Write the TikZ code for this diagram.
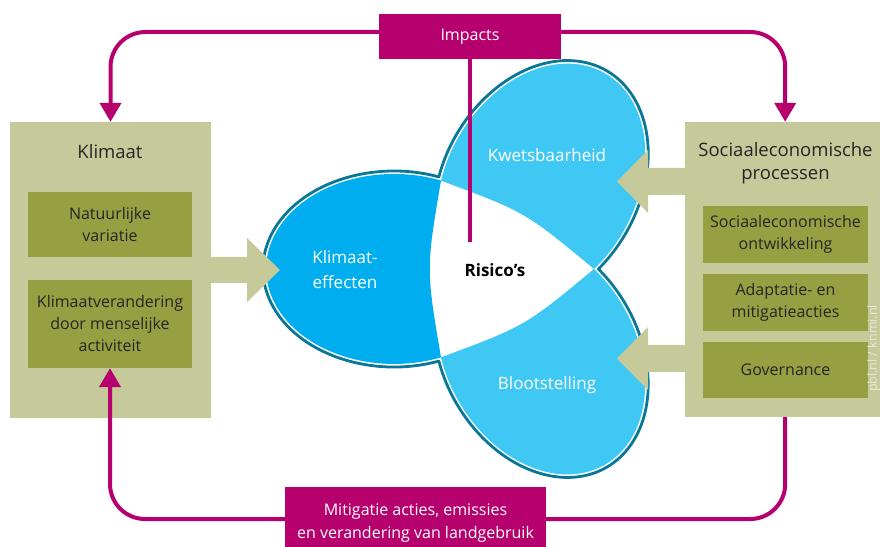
\documentclass[tikz,border=0pt]{standalone}
\usepackage{fontspec}
\setmainfont{Open Sans}
\usetikzlibrary{arrows.meta,calc}
\definecolor{mag}{RGB}{182,0,110}
\definecolor{olivelight}{RGB}{198,202,154}
\definecolor{olivedark}{RGB}{150,159,66}
\definecolor{petaldark}{RGB}{0,174,239}
\definecolor{petallight}{RGB}{64,200,244}
\definecolor{tealline}{RGB}{10,118,152}
\definecolor{marktext}{RGB}{232,234,214}
\begin{document}
\begin{tikzpicture}[x=1pt,y=1pt,
 panel/.style={fill=olivelight, draw=none, inner sep=0pt},
 innerbox/.style={fill=olivedark, draw=none, minimum width=164pt, align=center, text=black!85, font=\fontsize{16}{22}\selectfont, inner sep=0pt},
 titletext/.style={align=center, text=black!85, font=\fontsize{18.5}{23}\selectfont},
 magbox/.style={fill=mag, text=white, align=center, inner sep=0pt, font=\fontsize{16}{23}\selectfont},
 magline/.style={draw=mag, line width=4pt, rounded corners=35pt},
 magtip/.style={-{Triangle[length=19pt,width=21pt]}},
 fatarrow/.style={fill=olivelight},
 petallabel/.style={text=white, align=center, font=\fontsize{17}{25}\selectfont},
]
\useasboundingbox (0,0) rectangle (880,546);

% panels
\node[panel, minimum width=201pt, minimum height=296pt] (klimaat) at (110.5,276) {};
\node[titletext] (klimaatT) at (110,394) {Klimaat};
\node[innerbox, minimum height=65pt] (natvar) at (110,321.5) {Natuurlijke\\variatie};
\node[innerbox, minimum height=88pt] (klimver) at (110,222) {Klimaatverandering\\door menselijke\\activiteit};

\node[panel, minimum width=200pt, minimum height=295pt, anchor=west] (socio) at (685,276.5) {};
\node[titletext] (socioT) at (785.5,382.5) {Sociaaleconomische\\processen};
\node[innerbox, minimum width=165pt, minimum height=57pt] (socio1) at (785.5,311.5) {Sociaaleconomische\\ontwikkeling};
\node[innerbox, minimum width=165pt, minimum height=57pt] (socio2) at (785.5,243.5) {Adaptatie- en\\mitigatieacties};
\node[innerbox, minimum width=165pt, minimum height=56pt] (socio3) at (785.5,176) {Governance};
\node[rotate=90, text=marktext, font=\fontsize{12.5}{13}\selectfont] (mark) at (873.5,197.5) {pbl.nl / knmi.nl};

% petals
\foreach \ang/\col in {180/petaldark, 60/petallight, -60/petallight} {
 \begin{scope}[shift={(492,277)}, rotate=\ang]
  \fill[\col] (51,88.33) arc[start angle=111.5, end angle=-111.5, x radius=128pt, y radius=95pt] .. controls (66,0) .. (51,88.33);
  \draw[tealline, line width=2.8pt, line cap=round] ([shift={(98,0)}]110:131pt and 98pt) arc[start angle=110, end angle=-110, x radius=131pt, y radius=98pt];
 \end{scope}
}
\node[petallabel] (klimeff) at (345,276.5) {Klimaat-\\effecten};
\node[petallabel] (kwets) at (547,391) {Kwetsbaarheid};
\node[petallabel] (bloot) at (547,161) {Blootstelling};
\node[font=\bfseries\fontsize{17}{20}\selectfont] (risico) at (495,276) {Risico's};

% fat arrows
\fill[fatarrow] (210,263) -- (247,263) -- (247,244) -- (280,276) -- (247,308) -- (247,289) -- (210,289) -- cycle;
\fill[fatarrow] (686,351) -- (648,351) -- (648,333) -- (617,364.5) -- (648,396) -- (648,378) -- (686,378) -- cycle;
\fill[fatarrow] (686,174) -- (648,174) -- (648,156) -- (617,187.5) -- (648,219) -- (648,201) -- (686,201) -- cycle;

% magenta boxes and connectors
\node[magbox, minimum width=182pt, minimum height=45pt] (impacts) at (470,509.5) {Impacts};
\node[magbox, minimum width=261pt, minimum height=73pt] (mitig) at (415.5,22.5) {Mitigatie acties, emissies\\en verandering van landgebruik};
\coordinate (impEnd) at (470,304);

\draw[magline, magtip] ([yshift=4.5pt]impacts.west) -| (klimaat.north);
\draw[magline, magtip] ([yshift=4.5pt]impacts.east) -| (socio.north);
\draw[mag, line width=4.5pt] (impacts.south) -- (impEnd);
\draw[magline] (socio.south) |- ([yshift=4.5pt]mitig.east);
\draw[magline, magtip] ([yshift=4.5pt]mitig.west) -| (klimver.south);
\end{tikzpicture}
\end{document}
